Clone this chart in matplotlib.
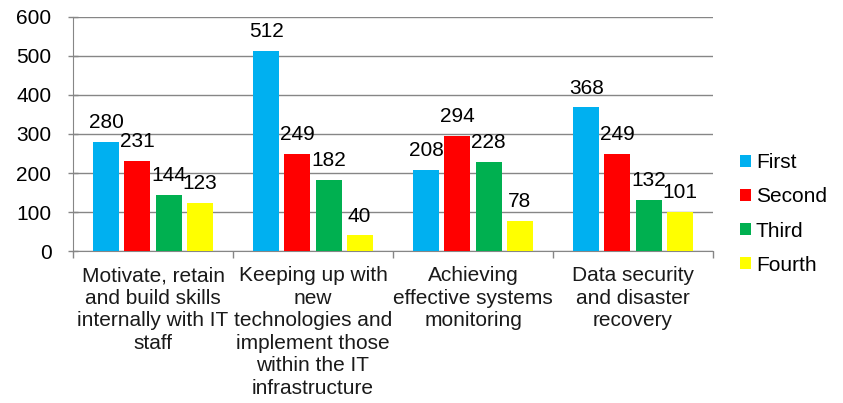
import matplotlib.pyplot as plt
import numpy as np

plt.rcParams['font.family'] = ['Liberation Sans', 'DejaVu Sans']

#### Data ####
categories = [
    "Motivate, retain\nand build skills\ninternally with IT\nstaff",
    "Keeping up with\nnew\ntechnologies and\nimplement those\nwithin the IT\ninfrastructure",
    "Achieving\neffective systems\nmonitoring",
    "Data security\nand disaster\nrecovery",
]
series_names = ["First", "Second", "Third", "Fourth"]
first = [280, 512, 208, 368]
second = [231, 249, 294, 249]
third = [144, 182, 228, 132]
fourth = [123, 40, 78, 101]
colors = ["#00B0F0", "#FF0000", "#00B050", "#FFFF00"]

#### Plot ####
fig = plt.figure(figsize=(8.43, 4.03), dpi=100)
ax = fig.add_axes([0.0866, 0.377, 0.7592, 0.581])

x = np.arange(len(categories)) + 0.5
width = 0.1625
step = 0.194
offsets = (np.arange(4) - 1.5) * step

handles = []
for vals, name, col, off in zip([first, second, third, fourth], series_names, colors, offsets):
    bars = ax.bar(x + off, vals, width, color=col, label=name, zorder=3)
    handles.append(bars)
    for b, v in zip(bars, vals):
        ax.annotate(str(v), (b.get_x() + b.get_width() / 2, v), xytext=(0, 10),
                    textcoords="offset points", ha="center", va="baseline",
                    fontsize=15, color="black", zorder=4)

# axes styling
ax.set_xlim(0, 4)
ax.set_ylim(0, 600)
ax.set_yticks(range(0, 601, 100))
ax.yaxis.grid(True, color="#868686", linewidth=1, zorder=0)
ax.set_axisbelow(True)
for s in ["top", "right"]:
    ax.spines[s].set_visible(False)
ax.spines["left"].set_color("#868686")
ax.spines["bottom"].set_color("#868686")
ax.tick_params(axis="y", colors="#868686", labelcolor="black", labelsize=15,
               length=7, width=1, direction="inout", pad=12)

# category labels between boundary ticks
ax.set_xticks(range(5))
ax.set_xticklabels([])
ax.tick_params(axis="x", colors="#868686", length=5, width=1, direction="out")
ax.set_xticks(x, minor=True)
ax.set_xticklabels(categories, minor=True, fontsize=15, linespacing=1.23)
ax.tick_params(axis="x", which="minor", length=0, pad=11, labelcolor="#1a1a1a")

# legend
fig.legend(handles=handles, loc="center left", bbox_to_anchor=(0.878, 0.469),
           frameon=False, fontsize=15, handlelength=0.5, handleheight=0.5,
           handletextpad=0.25, labelspacing=0.73, borderpad=0, borderaxespad=0)

fig.savefig("out.png", dpi=100)
